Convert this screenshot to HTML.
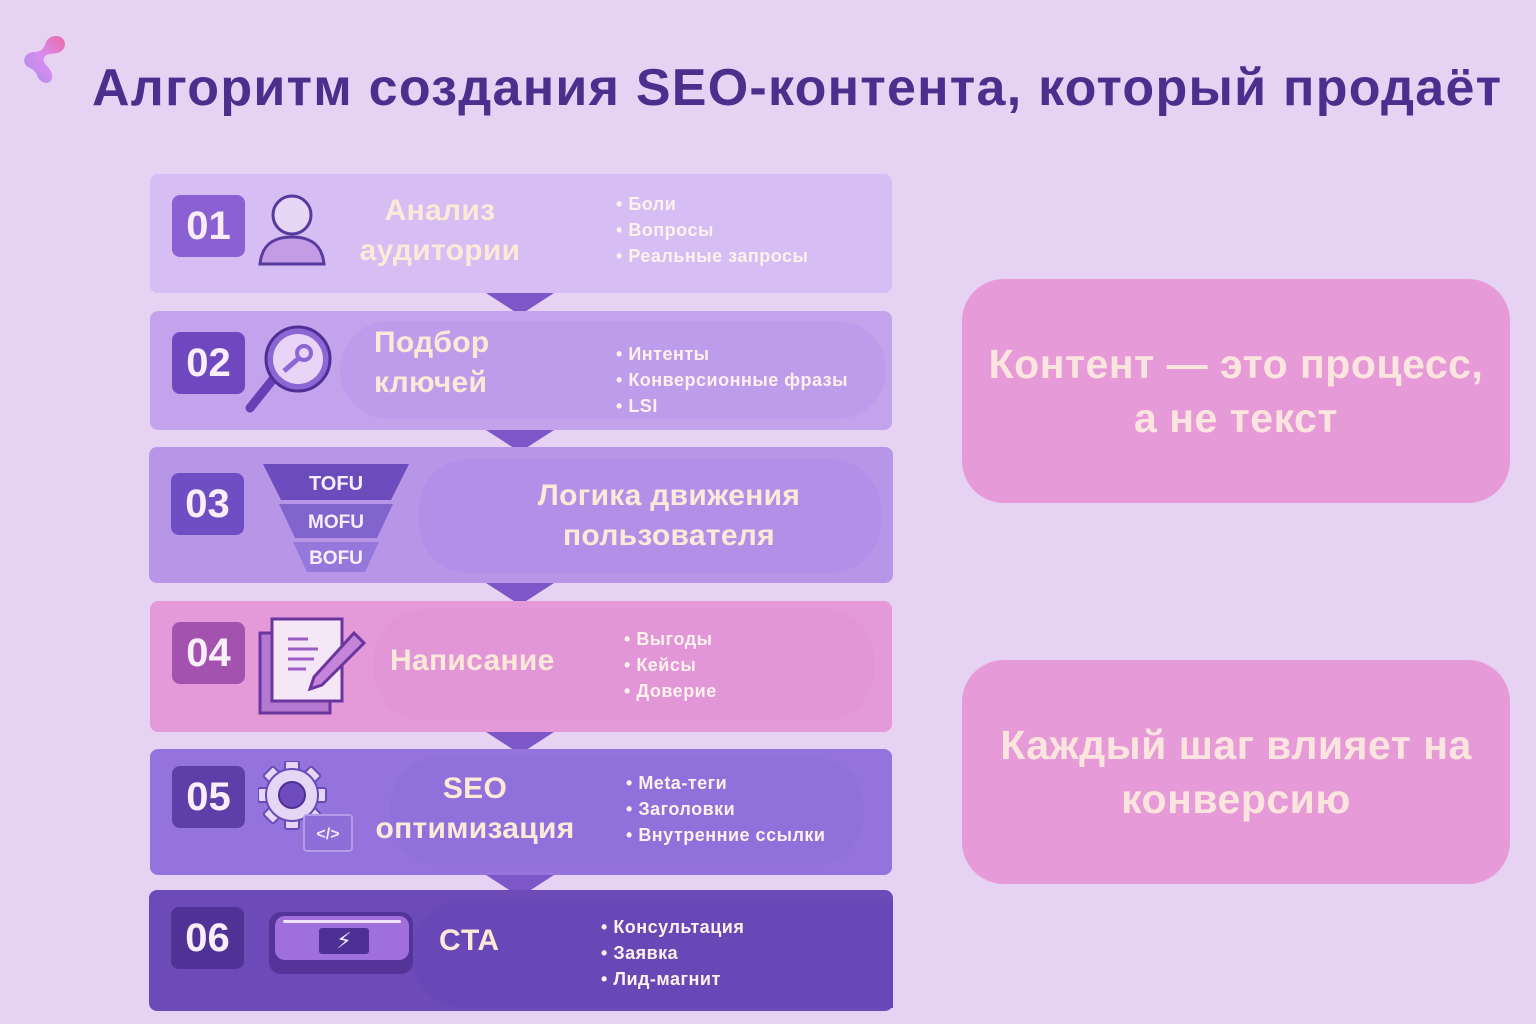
<!DOCTYPE html>
<html><head><meta charset="utf-8"><style>
*{margin:0;padding:0;box-sizing:border-box}
body{width:1536px;height:1024px;background:#e6d3f3;position:relative;overflow:hidden;font-family:"Liberation Sans","DejaVu Sans",sans-serif;font-weight:bold}
.a{position:absolute}
h1{position:absolute;left:92px;top:58px;font-size:52px;color:#4c2e8c;white-space:nowrap;letter-spacing:1.25px}
.row{position:absolute;left:150px;width:742px;border-radius:8px}
.num{position:absolute;left:22px;width:73px;height:62px;border-radius:8px;color:#fbeefb;font-size:40px;text-align:center;line-height:62px}
.pill{position:absolute;border-radius:50px}
.t{position:absolute;color:#fde9d8;font-size:30px;text-align:center;line-height:40px;letter-spacing:0.3px}
ul{position:absolute;color:#fdf1ec;font-size:18px;line-height:26px;list-style:none;letter-spacing:0.5px;white-space:nowrap}
ul li:before{content:"• ";}
.tri{position:absolute;left:486px;width:0;height:0;border-left:34px solid transparent;border-right:34px solid transparent;border-top:22px solid #7d56c8}
.box{position:absolute;left:962px;width:548px;height:224px;background:#e69ad8;border-radius:42px;color:#fde5df;font-size:41px;letter-spacing:0.5px;text-align:center;line-height:54px;display:flex;align-items:center;justify-content:center}
</style></head><body>
<svg class="a" style="left:18px;top:30px" width="50" height="60" viewBox="0 0 50 60"><path d="M38 6 C48 6 50 18 42 22 C36 25 28 22 26 28 C24 34 32 36 34 44 C36 52 28 56 22 50 C18 46 20 42 12 38 C2 34 6 22 16 22 C24 22 26 18 28 12 C30 8 34 6 38 6Z" fill="url(#g)"/><defs><linearGradient id="g" x1="1" y1="0" x2="0" y2="1"><stop offset="0" stop-color="#ea6aa8"/><stop offset="0.5" stop-color="#d98cf0"/><stop offset="1" stop-color="#a98ee8"/></linearGradient></defs></svg>
<h1>Алгоритм создания SEO-контента, который продаёт</h1>

<div class="row" style="top:174px;height:119px;background:#d6bdf3">
<div class="num" style="top:21px;background:#8a60d2">01</div>
<svg class="a" style="left:106px;top:20px" width="72" height="72"><circle cx="36" cy="21" r="19" fill="#e8d6f6" stroke="#573a9e" stroke-width="3"/><path d="M4 70 C6 50 18 43 36 43 C54 43 66 50 68 70Z" fill="#c49ce6" stroke="#573a9e" stroke-width="3"/></svg>
<div class="t" style="left:190px;top:17px;width:200px">Анализ<br>аудитории</div>
<ul style="left:466px;top:17px"><li>Боли</li><li>Вопросы</li><li>Реальные запросы</li></ul>
</div>
<div class="tri" style="top:293px"></div>

<div class="row" style="top:311px;height:119px;background:#c3a4ec">
<div class="pill" style="left:190px;top:10px;width:546px;height:98px;background:#bd9ceb"></div>
<div class="num" style="top:21px;background:#6f48bf">02</div>
<svg class="a" style="left:94px;top:12px" width="100" height="92"><line x1="30" y1="55" x2="6" y2="85" stroke="#6a3fb5" stroke-width="9" stroke-linecap="round"/><circle cx="54" cy="36" r="32" fill="#8d66d6" stroke="#4f2f96" stroke-width="3"/><circle cx="54" cy="36" r="25" fill="#e7d4f7"/><circle cx="60" cy="30" r="7" fill="none" stroke="#8d66d6" stroke-width="4"/><line x1="55" y1="35" x2="40" y2="48" stroke="#8d66d6" stroke-width="5"/></svg>
<div class="t" style="top:12px;width:150px;text-align:left;left:224px">Подбор<br>ключей</div>
<ul style="left:466px;top:30px"><li>Интенты</li><li>Конверсионные фразы</li><li>LSI</li></ul>
</div>
<div class="tri" style="top:430px"></div>

<div class="row" style="top:447px;height:136px;left:149px;width:744px;background:#b796e8">
<div class="pill" style="left:270px;top:12px;width:462px;height:114px;background:#b290e8"></div>
<div class="num" style="top:26px;background:#6f4ec3">03</div>
<svg class="a" style="left:112px;top:17px" width="150" height="110"><polygon points="2,0 148,0 130,36 20,36" fill="#6c4bbd"/><polygon points="18,40 132,40 116,74 34,74" fill="#8264cf"/><polygon points="32,78 118,78 104,108 46,108" fill="#9677dc"/>
<text x="75" y="26" fill="#f6eefc" font-size="20" text-anchor="middle" font-family="Liberation Sans" font-weight="bold">TOFU</text><text x="75" y="64" fill="#f6eefc" font-size="19" text-anchor="middle" font-family="Liberation Sans" font-weight="bold">MOFU</text><text x="75" y="100" fill="#f6eefc" font-size="19" text-anchor="middle" font-family="Liberation Sans" font-weight="bold">BOFU</text></svg>
<div class="t" style="left:310px;top:29px;width:420px">Логика движения<br>пользователя</div>
</div>
<div class="tri" style="top:583px"></div>

<div class="row" style="top:601px;height:131px;background:#e49ad8">
<div class="pill" style="left:224px;top:8px;width:500px;height:112px;background:#e296d8"></div>
<div class="num" style="top:21px;background:#a452b0">04</div>
<svg class="a" style="left:108px;top:16px" width="112" height="100"><rect x="2" y="16" width="70" height="80" fill="#b478d0" stroke="#6b359e" stroke-width="3"/><rect x="14" y="2" width="70" height="82" fill="#f5e6f8" stroke="#6b359e" stroke-width="3"/><line x1="30" y1="22" x2="50" y2="22" stroke="#9a5cc4" stroke-width="3"/><line x1="30" y1="32" x2="60" y2="32" stroke="#9a5cc4" stroke-width="3"/><line x1="30" y1="42" x2="56" y2="42" stroke="#9a5cc4" stroke-width="3"/><line x1="30" y1="52" x2="48" y2="52" stroke="#9a5cc4" stroke-width="3"/><polygon points="96,16 106,26 64,68 52,72 56,60" fill="#c485d8" stroke="#6b359e" stroke-width="3"/></svg>
<div class="t" style="left:240px;top:40px;width:190px;text-align:left">Написание</div>
<ul style="left:474px;top:25px"><li>Выгоды</li><li>Кейсы</li><li>Доверие</li></ul>
</div>
<div class="tri" style="top:732px"></div>

<div class="row" style="top:749px;height:126px;background:#9474dc">
<div class="pill" style="left:240px;top:8px;width:474px;height:108px;background:#9070da"></div>
<div class="num" style="top:17px;background:#5e3ea8">05</div>
<svg class="a" style="left:108px;top:12px" width="96" height="92"><g transform="translate(34,34)"><g fill="#e5d6f5" stroke="#6a4ab8" stroke-width="2"><rect x="-7" y="-34" width="14" height="68" rx="2"/><rect x="-7" y="-34" width="14" height="68" rx="2" transform="rotate(45)"/><rect x="-7" y="-34" width="14" height="68" rx="2" transform="rotate(90)"/><rect x="-7" y="-34" width="14" height="68" rx="2" transform="rotate(135)"/><circle r="26"/></g><circle r="13" fill="#6e4cbd" stroke="#4f2f96" stroke-width="2"/></g><rect x="46" y="54" width="48" height="36" rx="3" fill="#8e6ed8" stroke="#b49ae8" stroke-width="2"/><text x="70" y="78" fill="#f3e9fb" font-size="16" text-anchor="middle" font-family="Liberation Sans">&lt;/&gt;</text></svg>
<div class="t" style="left:200px;top:20px;width:250px">SEO<br>оптимизация</div>
<ul style="left:476px;top:21px"><li>Meta-теги</li><li>Заголовки</li><li>Внутренние ссылки</li></ul>
</div>
<div class="tri" style="top:875px"></div>

<div class="row" style="top:890px;height:121px;left:149px;width:744px;background:#6c4bb8">
<div class="pill" style="left:262px;top:10px;width:482px;height:108px;background:#6847b6;border-radius:60px 0 0 60px"></div>
<div class="num" style="top:17px;background:#503296">06</div>
<div class="a" style="left:120px;top:22px;width:144px;height:62px;border-radius:12px;background:#553499"></div>
<div class="a" style="left:126px;top:26px;width:134px;height:44px;border-radius:10px;background:#a06fde"></div>
<div class="a" style="left:134px;top:30px;width:118px;height:3px;border-radius:2px;background:#f0e4fb"></div>
<div class="a" style="left:170px;top:38px;width:50px;height:26px;border-radius:3px;background:#4e2f96;color:#f3ecfb;text-align:center;font-size:22px;line-height:26px">⚡</div>
<div class="t" style="left:290px;top:31px;width:80px;text-align:left">CTA</div>
<ul style="left:452px;top:24px"><li>Консультация</li><li>Заявка</li><li>Лид-магнит</li></ul>
</div>

<div class="box" style="top:279px">Контент — это процесс,<br>а не текст</div>
<div class="box" style="top:660px">Каждый шаг влияет на<br>конверсию</div>
</body></html>
